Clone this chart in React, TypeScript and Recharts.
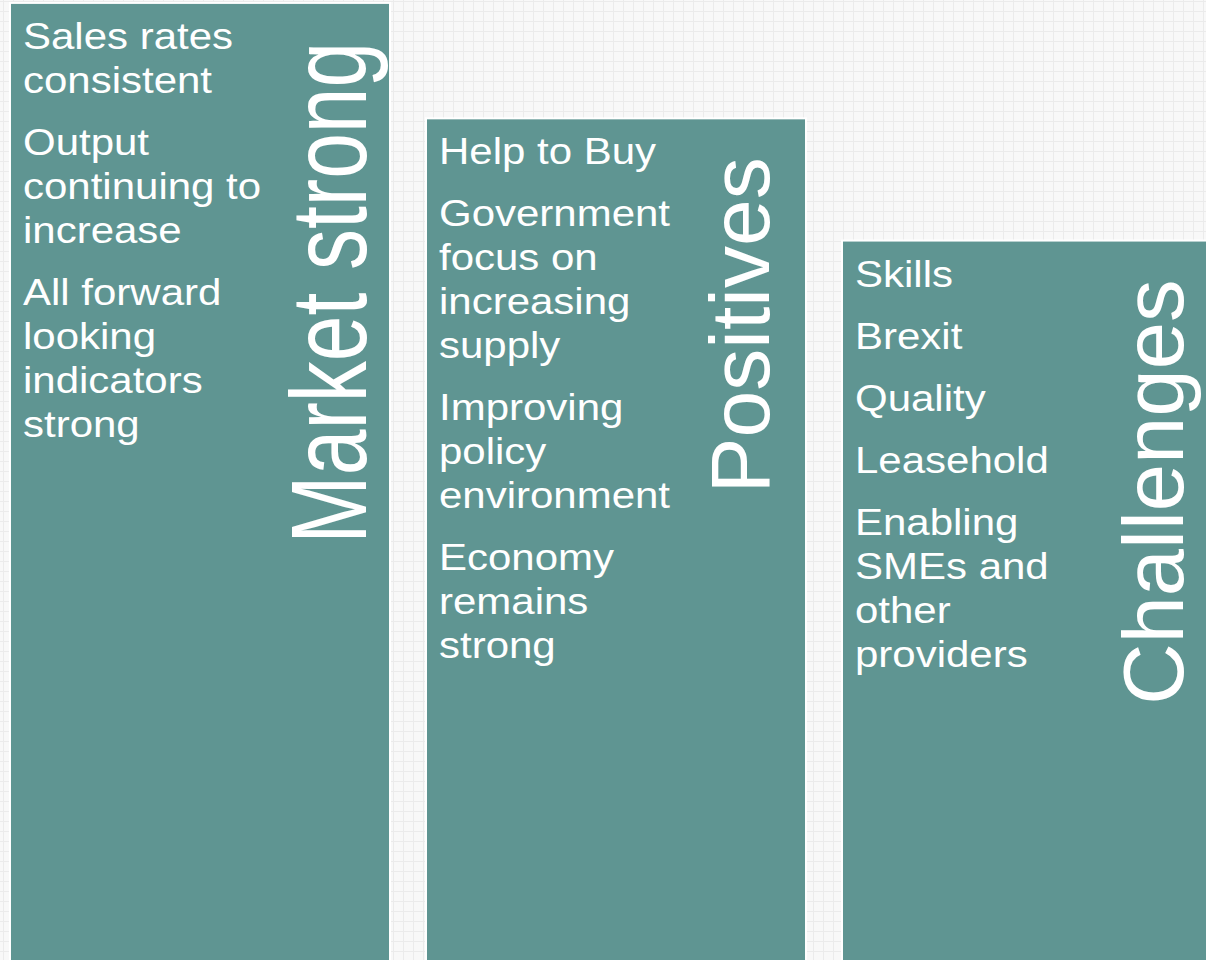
import { Bar, BarChart, XAxis, YAxis } from "recharts";

// three slide columns, tallest first
const COLUMNS = ["Market strong", "Positives", "Challenges"];
const HEIGHTS = [99.7, 87.8, 75.2];

// bullet items per column, already broken into lines
const POINTS: string[][][] = [
  [
    ["Sales rates", "consistent"],
    ["Output", "continuing to", "increase"],
    ["All forward", "looking", "indicators", "strong"],
  ],
  [
    ["Help to Buy"],
    ["Government", "focus on", "increasing", "supply"],
    ["Improving", "policy", "environment"],
    ["Economy", "remains", "strong"],
  ],
  [
    ["Skills"],
    ["Brexit"],
    ["Quality"],
    ["Leasehold"],
    ["Enabling", "SMEs and", "other", "providers"],
  ],
];

// title look: font size, squeeze along text, baseline offset from bar left
const TITLE_STYLE = [
  { size: 108, squeeze: 0.76, base: 356 },
  { size: 84, squeeze: 1, base: 343 },
  { size: 85, squeeze: 1, base: 341 },
];

const TEAL = "#5f9592";
const FONT = "'Liberation Sans', Arial, sans-serif";

const data = COLUMNS.map((name, i) => ({ name, value: HEIGHTS[i] }));

function ColumnShape(props: any) {
  const { x, y, width, height, payload } = props;
  const i = COLUMNS.indexOf(payload.name);
  const ts = TITLE_STYLE[i];
  const lines: { text: string; dy: number }[] = [];
  let dy = 46;
  POINTS[i].forEach((item, k) => {
    if (k > 0) dy += 62;
    item.forEach((t, j) => {
      if (j > 0) dy += 44;
      lines.push({ text: t, dy });
    });
  });
  return (
    <g>
      <rect x={x} y={y} width={width} height={height} fill={TEAL} stroke="#ffffff" strokeWidth={2} />
      {lines.map((l, k) => (
        <text
          key={k}
          transform={`translate(${x + 13},${y + l.dy}) scale(1.12,1)`}
          fill="#ffffff"
          fontSize={37.5}
          fontFamily={FONT}
        >
          {l.text}
        </text>
      ))}
      <text
        transform={`translate(${x + ts.base},${y + 39}) rotate(-90) scale(${ts.squeeze},1)`}
        textAnchor="end"
        fill="#ffffff"
        fontSize={ts.size}
        fontFamily={FONT}
      >
        {payload.name}
      </text>
    </g>
  );
}

export default function App() {
  return (
    <div
      style={{
        position: "fixed",
        left: 0,
        top: 0,
        width: 1206,
        height: 960,
        overflow: "hidden",
        backgroundColor: "#f8f8f8",
        backgroundImage:
          "linear-gradient(#ebebeb 1px, transparent 1px), linear-gradient(90deg, #ebebeb 1px, transparent 1px)",
        backgroundSize: "10px 10px",
        backgroundPosition: "3px 1px",
      }}
    >
      <div style={{ position: "absolute", left: -8, top: 0 }}>
        <BarChart
          width={1248}
          height={970}
          data={data}
          margin={{ top: 0, right: 0, bottom: 0, left: 0 }}
          barCategoryGap={18}
        >
          <XAxis dataKey="name" hide />
          <YAxis hide domain={[0, 100]} />
          <Bar dataKey="value" shape={ColumnShape} isAnimationActive={false} />
        </BarChart>
      </div>
    </div>
  );
}
